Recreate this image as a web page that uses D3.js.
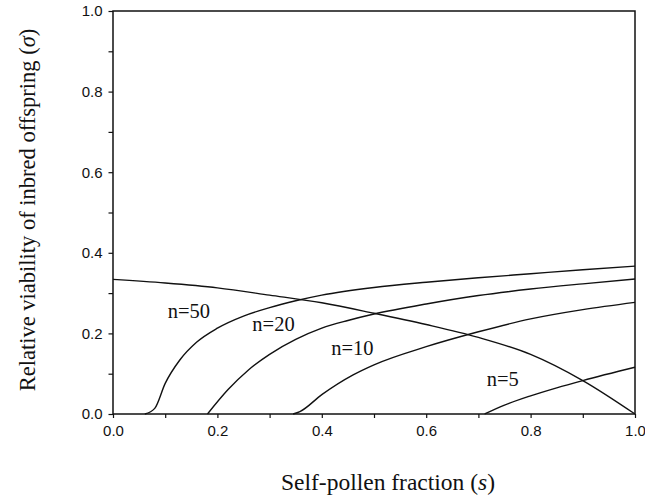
<!DOCTYPE html>
<html>
<head>
<meta charset="utf-8">
<script src="https://cdn.jsdelivr.net/npm/d3@7"></script>
<style>
  body { margin: 0; background: #fff; }
  svg { display: block; }
</style>
</head>
<body>
<svg id="chart"></svg>
<script>
// curve data: [s, sigma]
const threshold = [[0, 0.334], [0.1, 0.325], [0.2, 0.313], [0.3, 0.295], [0.4, 0.276], [0.5, 0.25],
  [0.6, 0.222], [0.7, 0.19], [0.8, 0.148], [0.9, 0.083], [1.0, 0.0]];
const n50 = [[0.061, 0], [0.08, 0.014], [0.1, 0.076], [0.128, 0.134], [0.16, 0.178], [0.2, 0.213],
  [0.25, 0.243], [0.3, 0.264], [0.35, 0.281], [0.4, 0.295], [0.5, 0.314], [0.6, 0.327],
  [0.7, 0.338], [0.8, 0.348], [0.9, 0.358], [1.0, 0.367]];
const n20 = [[0.181, 0], [0.22, 0.06], [0.26, 0.11], [0.3, 0.148], [0.35, 0.185], [0.4, 0.213],
  [0.45, 0.232], [0.5, 0.248], [0.6, 0.273], [0.7, 0.294], [0.8, 0.31], [0.9, 0.323], [1.0, 0.335]];
const n10 = [[0.345, 0], [0.358, 0.006], [0.4, 0.048], [0.46, 0.097], [0.5, 0.122], [0.6, 0.167],
  [0.7, 0.204], [0.8, 0.236], [0.9, 0.259], [1.0, 0.277]];
const n5 = [[0.712, 0], [0.75, 0.022], [0.8, 0.045], [0.85, 0.065], [0.9, 0.083], [1.0, 0.116]];

const curveLabels = ["n=50", "n=20", "n=10", "n=5"];
const labelPos = [[0.105, 0.238], [0.267, 0.205], [0.418, 0.146], [0.716, 0.07]]; // s, sigma of label baseline start

const xTicks = d3.range(0, 1.0001, 0.1);
const yTicks = d3.range(0, 1.0001, 0.1);

const width = 645, height = 499;
const margin = { top: 11, right: 10, bottom: 85, left: 113 };

const svg = d3.select("#chart")
  .attr("width", width)
  .attr("height", height);

const x = d3.scaleLinear().domain([0, 1]).range([margin.left, width - margin.right]);
const y = d3.scaleLinear().domain([0, 1]).range([height - margin.bottom, margin.top]);

const tickFmt = d => (Math.round(d * 10) % 2 === 0 ? d3.format(".1f")(d) : "");

// x axis
svg.append("g")
  .attr("class", "x-axis")
  .attr("transform", `translate(0,${y(0)})`)
  .call(d3.axisBottom(x).tickValues(xTicks).tickFormat(tickFmt).tickSize(4).tickPadding(7))
  .call(g => g.select(".domain").remove());

// y axis
svg.append("g")
  .attr("class", "y-axis")
  .attr("transform", `translate(${x(0)},0)`)
  .call(d3.axisLeft(y).tickValues(yTicks).tickFormat(tickFmt).tickSize(4.5).tickPadding(6))
  .call(g => g.select(".domain").remove());

svg.selectAll(".x-axis text, .y-axis text")
  .attr("font-family", "'Liberation Sans', Arial, sans-serif")
  .attr("font-size", 15)
  .attr("fill", "#111");
svg.selectAll(".tick line").attr("stroke", "#111").attr("stroke-width", 1.2);

// frame
svg.append("rect")
  .attr("x", x(0))
  .attr("y", y(1))
  .attr("width", x(1) - x(0))
  .attr("height", y(0) - y(1))
  .attr("fill", "none")
  .attr("stroke", "#111")
  .attr("stroke-width", 1.5);

const line = d3.line()
  .x(d => x(d[0]))
  .y(d => y(d[1]))
  .curve(d3.curveMonotoneX);

svg.append("g")
  .selectAll("path")
  .data([threshold, n50, n20, n10, n5])
  .enter()
  .append("path")
  .attr("d", line)
  .attr("fill", "none")
  .attr("stroke", "#111")
  .attr("stroke-width", 1.4);

svg.append("g")
  .selectAll("text")
  .data(curveLabels)
  .enter()
  .append("text")
  .attr("x", (d, i) => x(labelPos[i][0]))
  .attr("y", (d, i) => y(labelPos[i][1]))
  .attr("font-family", "'Liberation Serif', 'Times New Roman', serif")
  .attr("font-size", 20.5)
  .attr("fill", "#111")
  .text(d => d);

// axis titles
const xTitle = svg.append("text")
  .attr("x", 388)
  .attr("y", 490)
  .attr("text-anchor", "middle")
  .attr("font-family", "'Liberation Serif', 'Times New Roman', serif")
  .attr("font-size", 23.5)
  .attr("fill", "#111");
xTitle.append("tspan").text("Self-pollen fraction (");
xTitle.append("tspan").attr("font-style", "italic").text("s");
xTitle.append("tspan").text(")");

const yTitle = svg.append("text")
  .attr("transform", "translate(35,210) rotate(-90)")
  .attr("text-anchor", "middle")
  .attr("font-family", "'Liberation Serif', 'Times New Roman', serif")
  .attr("font-size", 22.5)
  .attr("fill", "#111");
yTitle.append("tspan").text("Relative viability of inbred offspring (");
yTitle.append("tspan").attr("font-style", "italic").text("σ");
yTitle.append("tspan").text(")");
</script>
</body>
</html>
